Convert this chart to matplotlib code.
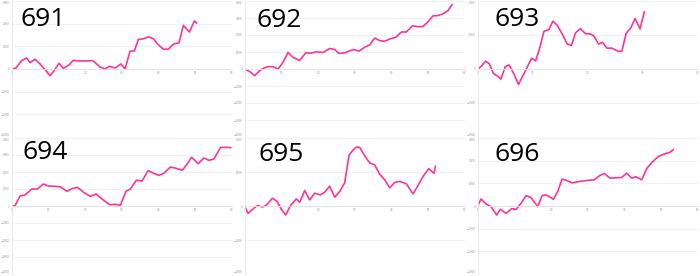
import matplotlib
matplotlib.use("Agg")
import matplotlib.pyplot as plt
import numpy as np

names = ["691", "692", "693", "694", "695", "696"]

x691 = [0, 1.18, 2.73, 4.09, 5.0, 6.36, 7.73, 9.09, 10.45, 11.55, 12.91, 14.09, 15.64, 16.82, 18.18,
        20.45, 22.09, 23.18, 24.09, 25.45, 26.64, 28.18, 29.82, 30.91, 32.27, 33.45, 34.55, 35.91,
        37.27, 38.64, 40.0, 41.36, 42.73, 44.09, 45.64, 46.82, 48.45, 49.82, 50.45]
y691 = [0, 44, 370, 489, 281, 430, 222, -30, -296, -74, 252, 30, 178, 385, 356, 356, 370, 222, 89, 0,
        119, 44, 222, 0, 785, 800, 1304, 1333, 1422, 1333, 1067, 874, 874, 1096, 1156, 1926, 1630,
        2119, 2030]

x692 = [0, 1.36, 2.73, 4.09, 5.45, 6.36, 7.73, 9.09, 10.45, 11.82, 13.18, 15.0, 16.64, 18.18, 19.55,
        21.36, 23.18, 24.55, 25.73, 27.27, 28.64, 29.73, 31.18, 32.73, 34.09, 35.45, 36.82, 38.18,
        39.55, 41.18, 42.73, 44.09, 45.73, 47.27, 48.64, 50.0, 51.36, 52.73, 54.09, 55.45, 56.55]
y692 = [0, -155, -388, -97, 78, 136, 136, 0, 388, 971, 680, 505, 951, 932, 1010, 971, 1204, 1146, 913,
        951, 1068, 1146, 1049, 1282, 1417, 1825, 1670, 1631, 1767, 1864, 2175, 2175, 2544, 2485,
        2505, 2777, 3126, 3146, 3243, 3437, 3786]

x693 = [0, 0.60, 1.39, 2.11, 2.83, 3.61, 4.22, 5.0, 5.72, 6.63, 7.41, 8.13, 9.04, 9.82, 10.54, 11.27,
        12.05, 12.95, 13.67, 14.46, 15.36, 16.27, 17.05, 17.77, 18.67, 19.58, 20.48, 21.08, 21.99,
        22.71, 23.49, 24.40, 25.30, 26.20, 26.99, 27.83, 28.61, 29.52, 30.30]
y693 = [0, 69, 228, 158, -129, -208, -297, 69, 119, -158, -455, -228, 69, 317, 238, 614, 1109, 1158,
        1406, 1287, 1030, 733, 693, 1059, 1188, 1040, 1030, 980, 733, 782, 614, 614, 535, 515, 1050,
        1208, 1485, 1178, 1683]

x694 = [0, 0.91, 2.28, 3.65, 5.47, 7.02, 8.66, 10.03, 11.85, 13.40, 15.04, 16.41, 17.96, 19.60, 21.42,
        23.06, 24.61, 26.71, 28.26, 29.63, 31.18, 32.36, 34.00, 35.55, 37.19, 38.74, 40.11, 41.48,
        43.30, 44.85, 46.49, 47.86, 49.04, 50.87, 52.42, 53.78, 55.15, 56.97, 58.61, 59.71]
y694 = [0, 20, 588, 647, 1000, 1000, 1294, 1176, 1157, 1118, 863, 1020, 1098, 804, 569, 706, 412, 78,
        98, 39, 863, 1000, 1510, 1471, 2078, 1922, 1804, 1922, 2294, 2216, 2098, 2471, 2863, 2490,
        2824, 2686, 2765, 3451, 3451, 3431]

x695 = [0, 0.91, 1.82, 3.0, 3.64, 4.82, 5.91, 7.55, 8.82, 10.0, 11.18, 12.45, 14.09, 15.0, 16.36,
        17.73, 19.09, 20.64, 21.82, 23.18, 24.55, 25.91, 27.27, 28.45, 29.55, 30.45, 31.36, 32.73,
        34.09, 35.45, 36.82, 38.18, 39.55, 40.91, 42.27, 44.09, 45.91, 47.27, 48.64, 50.18, 51.64, 52.0]
y695 = [0, -218, -129, -20, 10, -30, 20, 228, 139, -89, -267, 10, 208, 109, 455, 178, 376, 327, 406,
        584, 257, 426, 683, 1495, 1644, 1733, 1723, 1475, 1267, 1208, 931, 772, 535, 693, 723, 653,
        356, 604, 871, 1099, 960, 1168]

x696 = [0, 0.91, 2.27, 3.64, 5.18, 6.18, 7.73, 9.27, 10.45, 11.82, 13.18, 14.55, 16.36, 17.55, 18.64,
        19.55, 20.64, 21.82, 23.0, 24.27, 25.73, 27.73, 29.73, 31.82, 33.18, 34.55, 36.09, 37.73,
        39.27, 40.64, 42.0, 43.18, 44.73, 46.18, 47.73, 49.36, 50.91, 52.45, 53.36]
y696 = [0, 311, 89, -30, -400, -148, -326, -119, -148, 119, 459, 370, -30, 459, 489, 415, 296, 637,
        1185, 1126, 1022, 1081, 1126, 1156, 1333, 1437, 1230, 1244, 1259, 1452, 1230, 1289, 1156,
        1674, 1956, 2193, 2296, 2370, 2489]

xs = [x691, x692, x693, x694, x695, x696]
ys = [y691, y692, y693, y694, y695, y696]
ylims = [3000, 4000, 2000, 4000, 2000, 3000]
ysteps = [1000, 1000, 1000, 1000, 1000, 1000]
xmaxs = [60, 60, 40, 60, 60, 60]

fig = plt.figure(figsize=(7.0, 2.76), dpi=100)
W, H = 700.0, 276.0
lefts = [11.7, 244.7, 477.7]
width = 220.0
rows = [(1.0, 137.0), (138.0, 274.0)]
title_pos = [(21, 7), (257, 8), (494, 7), (22, 140), (259, 142), (494, 142)]

for i in range(6):
    r, c = divmod(i, 3)
    top, bot = rows[r]
    ax = fig.add_axes([lefts[c] / W, 1 - bot / H, width / W, (bot - top) / H])
    lim = ylims[i]
    ax.set_ylim(-lim, lim)
    ax.set_xlim(0, xmaxs[i])
    ax.set_yticks(np.arange(-lim, lim + 1, ysteps[i]))
    ax.set_xticks(np.arange(0, xmaxs[i] + 1, 10))
    ax.grid(axis="y", color="#efefef", linewidth=0.6)
    ax.set_axisbelow(True)
    for s in ["top", "right"]:
        ax.spines[s].set_visible(False)
    ax.spines["left"].set_color("#e6e6e6")
    ax.spines["left"].set_linewidth(0.6)
    ax.spines["bottom"].set_position(("data", 0))
    ax.spines["bottom"].set_color("#e2e2e2")
    ax.spines["bottom"].set_linewidth(0.6)
    ax.tick_params(axis="both", length=0, labelsize=2, labelcolor="#999999", pad=1.5)
    ylabels = ax.get_yticklabels()
    ylabels[0].set_verticalalignment("bottom")
    ylabels[-1].set_verticalalignment("top")
    ax.plot(xs[i], ys[i], color="#ff3399", linewidth=1.2, solid_joinstyle="round")
    tx, ty = title_pos[i]
    fig.text(tx / W, 1 - ty / H, names[i], fontsize=19, family="Open Sans",
             color="black", ha="left", va="top")

fig.savefig("out.png", dpi=100)
